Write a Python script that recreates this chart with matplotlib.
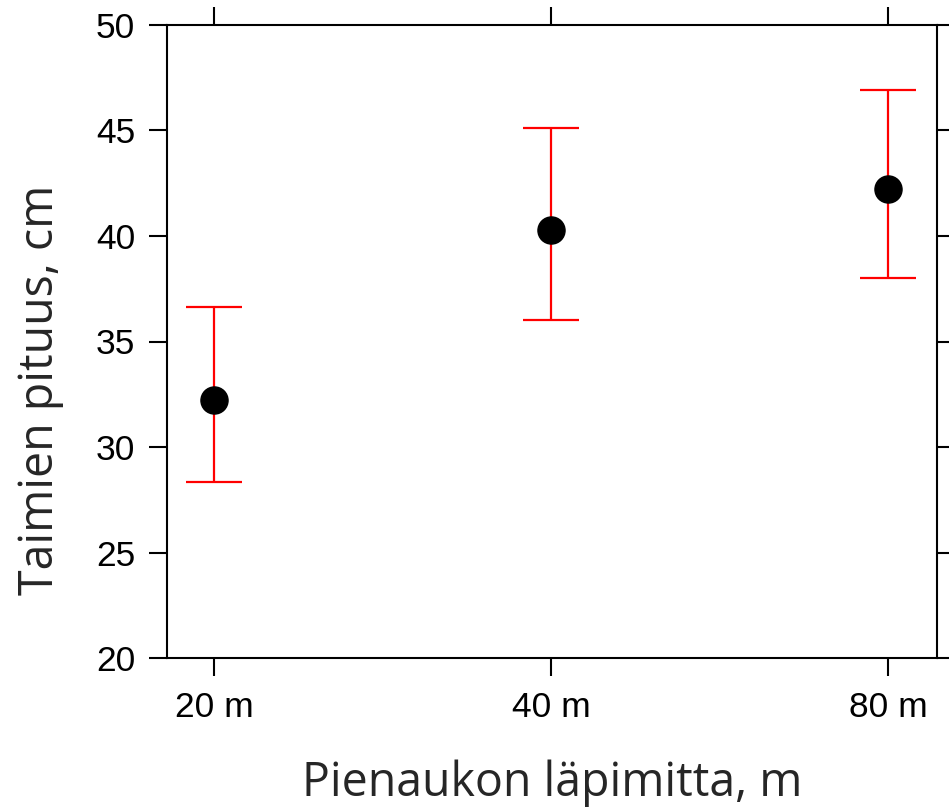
import matplotlib.pyplot as plt
import numpy as np

# valeurs
categories = ['20 m', '40 m', '80 m']
moyennes = [32.25, 40.3, 42.25]
bas = [28.35, 36.0, 38.0]
haut = [36.65, 45.1, 46.9]

x = np.arange(len(categories))
err = [np.array(moyennes) - np.array(bas), np.array(haut) - np.array(moyennes)]

fig = plt.figure(figsize=(9.49, 8.09), dpi=100)
ax = fig.add_axes([167/949, 151/809, 770/949, 633/809])

ax.errorbar(x, moyennes, yerr=err, fmt='none', ecolor='red', elinewidth=1.6,
            capsize=20, capthick=1.6, zorder=2)
ax.plot(x, moyennes, 'o', color='black', markersize=19.5, zorder=3)

ax.set_xlim(-0.14, 2.145)
ax.set_ylim(20, 50)
ax.set_yticks(np.arange(20, 51, 5))
ax.set_xticks(x)
ax.set_xticklabels(categories)

for s in ax.spines.values():
    s.set_linewidth(1.5)
ax.tick_params(direction='out', length=13, width=1.5, top=True, right=True,
               labelsize=25.5)
ax.tick_params(axis='x', pad=11)
ax.tick_params(axis='y', pad=10)
for lab in ax.get_xticklabels() + ax.get_yticklabels():
    lab.set_family('Liberation Sans')

ax.set_xlabel('Pienaukon läpimitta, m', family='Open Sans', fontsize=33.5,
              color='#262626', labelpad=25)
ax.set_ylabel('Taimien pituus, cm', family='Open Sans', fontsize=33.5,
              color='#262626', labelpad=23)
# le titre vertical est un peu plus bas que le centre
ax.yaxis.label.set_y(0.423)

fig.savefig('out.png', dpi=100)
